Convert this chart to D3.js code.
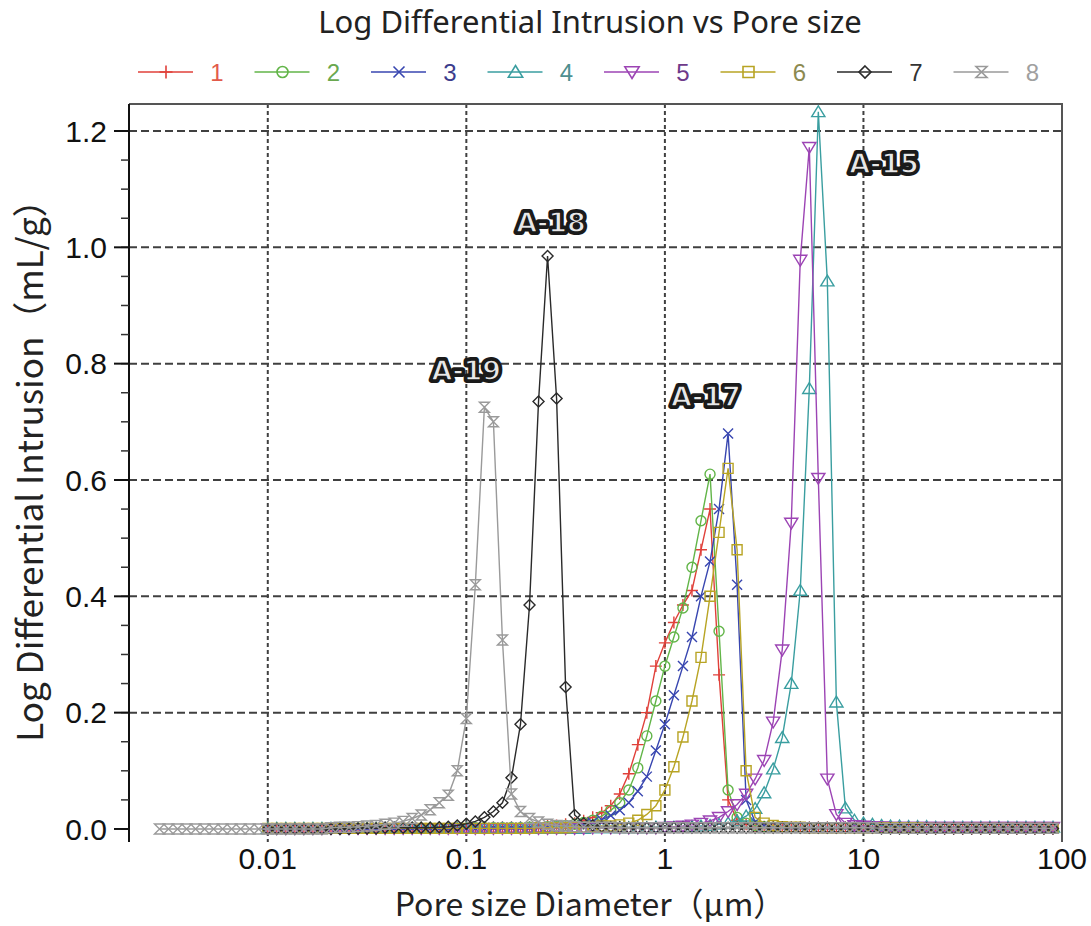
<!DOCTYPE html>
<html>
<head>
<meta charset="utf-8">
<script src="https://cdn.jsdelivr.net/npm/d3@7"></script>
<style>
  body { margin: 0; background: #fff; }
</style>
</head>
<body>
<div id="chart"></div>
<script>
// Pore size grid (um), 22 points per decade
const poreSize = [
  0.002848, 0.003162, 0.003511, 0.003899, 0.004329, 0.004806, 0.005337, 0.005925, 0.006579, 0.007305,
  0.008111, 0.009006, 0.01, 0.0111, 0.01233, 0.01369, 0.0152, 0.01688, 0.01874, 0.02081,
  0.0231, 0.02565, 0.02848, 0.03162, 0.03511, 0.03899, 0.04329, 0.04806, 0.05337, 0.05925,
  0.06579, 0.07305, 0.08111, 0.09006, 0.1, 0.111, 0.1233, 0.1369, 0.152, 0.1688,
  0.1874, 0.2081, 0.231, 0.2565, 0.2848, 0.3162, 0.3511, 0.3899, 0.4329, 0.4806,
  0.5337, 0.5925, 0.6579, 0.7305, 0.8111, 0.9006, 1, 1.11, 1.233, 1.369,
  1.52, 1.688, 1.874, 2.081, 2.31, 2.565, 2.848, 3.162, 3.511, 3.899,
  4.329, 4.806, 5.337, 5.925, 6.579, 7.305, 8.111, 9.006, 10, 11.1,
  12.33, 13.69, 15.2, 16.88, 18.74, 20.81, 23.1, 25.65, 28.48, 31.62,
  35.11, 38.99, 43.29, 48.06, 53.37, 59.25, 65.79, 73.05, 81.11, 90.06
];

// Log differential intrusion (mL/g) for each sample
const series1 = [
  null, null, null, null, null, null, null, null, null, null,
  null, null, 0.001, 0.001, 0.001, 0.001, 0.001, 0.001, 0.001, 0.001,
  0.001, 0.001, 0.001, 0.001, 0.002, 0.002, 0.002, 0.002, 0.002, 0.002,
  0.002, 0.002, 0.002, 0.002, 0.002, 0.002, 0.003, 0.003, 0.003, 0.003,
  0.003, 0.003, 0.004, 0.005, 0.006, 0.008, 0.01, 0.014, 0.02, 0.028,
  0.04, 0.06, 0.095, 0.145, 0.2, 0.28, 0.32, 0.355, 0.385, 0.41,
  0.48, 0.55, 0.265, 0.05, 0.015, 0.008, 0.005, 0.004, 0.003, 0.003,
  0.002, 0.002, 0.002, 0.002, 0.002, 0.002, 0.002, 0.002, 0.002, 0.002,
  0.002, 0.002, 0.002, 0.002, 0.002, 0.001, 0.001, 0.001, 0.001, 0.001,
  0.001, 0.001, 0.001, 0.001, 0.001, 0.001, 0.001, 0.001, 0.001, 0.001
];
const series2 = [
  null, null, null, null, null, null, null, null, null, null,
  null, null, 0.001, 0.001, 0.001, 0.001, 0.001, 0.001, 0.001, 0.001,
  0.001, 0.001, 0.001, 0.001, 0.001, 0.001, 0.001, 0.001, 0.001, 0.001,
  0.001, 0.001, 0.001, 0.001, 0.001, 0.002, 0.002, 0.002, 0.002, 0.002,
  0.002, 0.003, 0.003, 0.004, 0.005, 0.006, 0.008, 0.011, 0.015, 0.022,
  0.032, 0.045, 0.067, 0.105, 0.16, 0.22, 0.28, 0.33, 0.38, 0.45,
  0.53, 0.61, 0.34, 0.067, 0.02, 0.01, 0.006, 0.004, 0.003, 0.003,
  0.002, 0.002, 0.002, 0.002, 0.002, 0.002, 0.002, 0.002, 0.002, 0.002,
  0.002, 0.002, 0.002, 0.002, 0.002, 0.001, 0.001, 0.001, 0.001, 0.001,
  0.001, 0.001, 0.001, 0.001, 0.001, 0.001, 0.001, 0.001, 0.001, 0.001
];
const series3 = [
  null, null, null, null, null, null, null, null, null, null,
  null, null, 0.001, 0.001, 0.001, 0.001, 0.001, 0.001, 0.001, 0.001,
  0.001, 0.001, 0.001, 0.001, 0.001, 0.001, 0.001, 0.001, 0.001, 0.001,
  0.001, 0.001, 0.001, 0.001, 0.001, 0.001, 0.001, 0.002, 0.002, 0.002,
  0.002, 0.002, 0.003, 0.003, 0.004, 0.005, 0.006, 0.008, 0.011, 0.016,
  0.023, 0.032, 0.045, 0.065, 0.09, 0.135, 0.18, 0.23, 0.28, 0.33,
  0.4, 0.46, 0.55, 0.68, 0.42, 0.05, 0.012, 0.006, 0.004, 0.003,
  0.002, 0.002, 0.002, 0.002, 0.002, 0.002, 0.002, 0.002, 0.002, 0.002,
  0.002, 0.002, 0.002, 0.002, 0.002, 0.001, 0.001, 0.001, 0.001, 0.001,
  0.001, 0.001, 0.001, 0.001, 0.001, 0.001, 0.001, 0.001, 0.001, 0.001
];
const series4 = [
  null, null, null, null, null, null, null, null, null, null,
  null, null, 0.001, 0.001, 0.001, 0.001, 0.001, 0.001, 0.001, 0.001,
  0.001, 0.001, 0.001, 0.001, 0.001, 0.001, 0.001, 0.001, 0.001, 0.001,
  0.001, 0.001, 0.001, 0.001, 0.001, 0.001, 0.001, 0.001, 0.001, 0.001,
  0.001, 0.001, 0.001, 0.001, 0.001, 0.001, 0.001, 0.001, 0.002, 0.002,
  0.002, 0.002, 0.002, 0.002, 0.002, 0.003, 0.003, 0.003, 0.003, 0.004,
  0.005, 0.006, 0.008, 0.01, 0.014, 0.022, 0.035, 0.062, 0.103, 0.157,
  0.25, 0.41, 0.757, 1.233, 0.942, 0.218, 0.036, 0.015, 0.01, 0.008,
  0.006, 0.005, 0.005, 0.004, 0.004, 0.004, 0.003, 0.003, 0.003, 0.003,
  0.003, 0.003, 0.003, 0.003, 0.003, 0.003, 0.003, 0.003, 0.003, 0.003
];
const series5 = [
  null, null, null, null, null, null, null, null, null, null,
  null, null, 0.001, 0.001, 0.001, 0.001, 0.001, 0.001, 0.001, 0.001,
  0.001, 0.001, 0.001, 0.001, 0.001, 0.001, 0.001, 0.001, 0.001, 0.001,
  0.001, 0.001, 0.001, 0.001, 0.001, 0.001, 0.001, 0.001, 0.001, 0.001,
  0.001, 0.001, 0.001, 0.001, 0.001, 0.001, 0.001, 0.001, 0.002, 0.002,
  0.002, 0.002, 0.002, 0.002, 0.002, 0.002, 0.003, 0.004, 0.005, 0.007,
  0.01, 0.014, 0.02, 0.03, 0.042, 0.06, 0.086, 0.118, 0.184, 0.308,
  0.526, 0.978, 1.172, 0.603, 0.086, 0.025, 0.01, 0.006, 0.005, 0.004,
  0.004, 0.003, 0.003, 0.003, 0.003, 0.003, 0.003, 0.003, 0.003, 0.003,
  0.003, 0.003, 0.003, 0.003, 0.003, 0.003, 0.003, 0.003, 0.003, 0.003
];
const series6 = [
  null, null, null, null, null, null, null, null, null, null,
  null, null, 0.001, 0.001, 0.001, 0.001, 0.001, 0.001, 0.001, 0.001,
  0.001, 0.001, 0.001, 0.001, 0.001, 0.001, 0.001, 0.001, 0.001, 0.001,
  0.001, 0.001, 0.001, 0.001, 0.001, 0.001, 0.001, 0.001, 0.001, 0.001,
  0.001, 0.001, 0.002, 0.002, 0.002, 0.002, 0.003, 0.003, 0.004, 0.005,
  0.005, 0.007, 0.01, 0.015, 0.025, 0.04, 0.067, 0.107, 0.158, 0.22,
  0.295, 0.4, 0.51, 0.62, 0.48, 0.1, 0.02, 0.01, 0.006, 0.004,
  0.003, 0.003, 0.002, 0.002, 0.002, 0.002, 0.002, 0.002, 0.002, 0.002,
  0.002, 0.002, 0.002, 0.002, 0.002, 0.001, 0.001, 0.001, 0.001, 0.001,
  0.001, 0.001, 0.001, 0.001, 0.001, 0.001, 0.001, 0.001, 0.001, 0.001
];
const series7 = [
  null, null, null, null, null, null, null, null, null, null,
  null, null, 0, 0, 0, 0, 0, 0, 0, 0,
  0, 0, 0.001, 0.001, 0.001, 0.002, 0.002, 0.002, 0.002, 0.002,
  0.002, 0.003, 0.004, 0.006, 0.009, 0.013, 0.02, 0.03, 0.045, 0.088,
  0.18, 0.385, 0.735, 0.985, 0.74, 0.244, 0.024, 0.01, 0.006, 0.004,
  0.003, 0.003, 0.002, 0.002, 0.002, 0.002, 0.002, 0.002, 0.002, 0.002,
  0.002, 0.002, 0.002, 0.002, 0.002, 0.002, 0.002, 0.002, 0.002, 0.002,
  0.002, 0.002, 0.002, 0.002, 0.002, 0.002, 0.002, 0.002, 0.002, 0.002,
  0.001, 0.001, 0.001, 0.001, 0.001, 0.001, 0.001, 0.001, 0.001, 0.001,
  0.001, 0.001, 0.001, 0.001, 0.001, 0.001, 0.001, 0.001, 0.001, 0.001
];
const series8 = [
  0, 0, 0, 0, 0, 0, 0, 0, 0, 0,
  0, 0, 0, 0, 0, 0, 0, 0, 0, 0.002,
  0.003, 0.003, 0.004, 0.005, 0.006, 0.008, 0.01, 0.013, 0.018, 0.024,
  0.033, 0.045, 0.058, 0.1, 0.19, 0.42, 0.725, 0.7, 0.325, 0.06,
  0.03, 0.018, 0.012, 0.008, 0.006, 0.005, 0.004, 0.003, 0.003, 0.003,
  0.003, 0.002, 0.002, 0.002, 0.002, 0.002, 0.002, 0.002, 0.002, 0.002,
  0.002, 0.002, 0.002, 0.002, 0.002, 0.002, 0.002, 0.002, 0.002, 0.002,
  0.002, 0.002, 0.002, 0.002, 0.002, 0.002, 0.002, 0.002, 0.002, 0.002,
  0.001, 0.001, 0.001, 0.001, 0.001, 0.001, 0.001, 0.001, 0.001, 0.001,
  0.001, 0.001, 0.001, 0.001, 0.001, 0.001, 0.001, 0.001, 0.001, 0.001
];

const seriesNames = ["1", "2", "3", "4", "5", "6", "7", "8"];
const seriesColors = ["#e0403a", "#62b548", "#3846b0", "#3a9ea0", "#9c44b4", "#b8a424", "#2a2a2a", "#9a9a9a"];
const labelColors = ["#e25a4a", "#6aa84f", "#3c3c8c", "#4f8f8f", "#6e3a8a", "#8c8a50", "#333333", "#a0a0a0"];
const seriesShapes = ["plus", "circle", "cross", "triUp", "triDown", "square", "diamond", "hourglass"];
const seriesValues = [series1, series2, series3, series4, series5, series6, series7, series8];

const xTicks = [0.01, 0.1, 1, 10, 100];
const xTickLabels = ["0.01", "0.1", "1", "10", "100"];
const yTicks = [0, 0.2, 0.4, 0.6, 0.8, 1.0, 1.2];

// sample labels placed in data coordinates
const annotations = [
  { text: "A-15", d: 12.7, v: 1.145 },
  { text: "A-18", d: 0.267, v: 1.043 },
  { text: "A-19", d: 0.1, v: 0.789 },
  { text: "A-17", d: 1.61, v: 0.744 }
];

const width = 1091, height = 926;
const margin = { top: 104, right: 29, bottom: 84, left: 129 };

const svg = d3.select("#chart")
  .append("svg")
  .attr("width", width)
  .attr("height", height);

const x = d3.scaleLog()
  .domain([0.002, 100])
  .range([margin.left, width - margin.right]);

const y = d3.scaleLinear()
  .domain([-0.0224, 1.2464])
  .range([height - margin.bottom, margin.top]);

const plotTop = margin.top, plotBottom = height - margin.bottom;
const plotLeft = margin.left, plotRight = width - margin.right;

// Grid lines
svg.append("g")
  .selectAll("line")
  .data(yTicks.slice(1))
  .enter().append("line")
  .attr("x1", plotLeft)
  .attr("x2", plotRight)
  .attr("y1", d => y(d))
  .attr("y2", d => y(d))
  .attr("stroke", "#404040")
  .attr("stroke-width", 2)
  .attr("stroke-dasharray", "8,4");

svg.append("g")
  .selectAll("line")
  .data(xTicks.slice(0, 4))
  .enter().append("line")
  .attr("x1", d => x(d))
  .attr("x2", d => x(d))
  .attr("y1", plotTop)
  .attr("y2", plotBottom)
  .attr("stroke", "#404040")
  .attr("stroke-width", 2)
  .attr("stroke-dasharray", "4,3");

// Frame (top and right)
svg.append("path")
  .attr("d", `M${plotLeft},${plotTop}H${plotRight}V${plotBottom}`)
  .attr("fill", "none")
  .attr("stroke", "#555")
  .attr("stroke-width", 2);

// Marker shapes
function markerPath(shape, r) {
  switch (shape) {
    case "plus": return `M${-r},0H${r}M0,${-r}V${r}`;
    case "circle": return `M${-r},0A${r},${r} 0 1,0 ${r},0A${r},${r} 0 1,0 ${-r},0`;
    case "cross": return `M${-r},${-r}L${r},${r}M${-r},${r}L${r},${-r}`;
    case "triUp": return `M0,${-r}L${r * 1.1},${r * 0.8}L${-r * 1.1},${r * 0.8}Z`;
    case "triDown": return `M0,${r}L${r * 1.1},${-r * 0.8}L${-r * 1.1},${-r * 0.8}Z`;
    case "square": return `M${-r},${-r}H${r}V${r}H${-r}Z`;
    case "diamond": return `M0,${-r}L${r},0L0,${r}L${-r},0Z`;
    case "hourglass": return `M${-r},${-r}H${r}L${-r},${r}H${r}Z`;
  }
}
const markerSize = [6, 5, 5, 6, 6, 5, 5.5, 5];

svg.append("defs").append("clipPath")
  .attr("id", "plot-clip")
  .append("rect")
  .attr("x", plotLeft)
  .attr("y", plotTop)
  .attr("width", plotRight - plotLeft)
  .attr("height", plotBottom - plotTop);

const line = d3.line()
  .x(p => x(p.d))
  .y(p => y(p.v));

const plot = svg.append("g").attr("clip-path", "url(#plot-clip)");

seriesValues.forEach((vals, i) => {
  const pts = poreSize.map((d, j) => ({ d: d, v: vals[j] })).filter(p => p.v !== null);
  const g = plot.append("g");
  g.append("path")
    .datum(pts)
    .attr("d", line)
    .attr("fill", "none")
    .attr("stroke", seriesColors[i])
    .attr("stroke-width", 1.4);
  g.selectAll(".pt")
    .data(pts)
    .enter().append("path")
    .attr("transform", p => `translate(${x(p.d)},${y(p.v)})`)
    .attr("d", markerPath(seriesShapes[i], markerSize[i]))
    .attr("fill", "none")
    .attr("stroke", seriesColors[i])
    .attr("stroke-width", 1.4);
});

// Y axis
const yAxis = svg.append("g");
yAxis.append("line")
  .attr("x1", plotLeft).attr("x2", plotLeft)
  .attr("y1", plotTop).attr("y2", plotBottom)
  .attr("stroke", "#111").attr("stroke-width", 2);

const minorTicks = d3.range(0, 1.2001, 0.05);
yAxis.selectAll(".minor")
  .data(minorTicks)
  .enter().append("line")
  .attr("x1", plotLeft - 8).attr("x2", plotLeft)
  .attr("y1", d => y(d)).attr("y2", d => y(d))
  .attr("stroke", "#333").attr("stroke-width", 1.5);

yAxis.selectAll(".major")
  .data(yTicks)
  .enter().append("line")
  .attr("x1", plotLeft - 15).attr("x2", plotLeft)
  .attr("y1", d => y(d)).attr("y2", d => y(d))
  .attr("stroke", "#111").attr("stroke-width", 2);

yAxis.selectAll(".ylab")
  .data(yTicks)
  .enter().append("text")
  .attr("x", 107)
  .attr("y", d => y(d))
  .attr("dy", "0.36em")
  .attr("text-anchor", "end")
  .style("font-family", "Liberation Sans, Arial, sans-serif")
  .style("font-size", "30px")
  .attr("fill", "#111")
  .text(d => d3.format(".1f")(d));

// X axis labels
svg.append("g")
  .selectAll("text")
  .data(xTicks)
  .enter().append("text")
  .attr("x", d => x(d))
  .attr("y", 869)
  .attr("text-anchor", "middle")
  .style("font-family", "Liberation Sans, Arial, sans-serif")
  .style("font-size", "30px")
  .attr("fill", "#111")
  .text((d, i) => xTickLabels[i]);

// Title
svg.append("text")
  .attr("x", 590)
  .attr("y", 33)
  .attr("text-anchor", "middle")
  .style("font-family", "Noto Sans, sans-serif")
  .style("font-size", "31px")
  .attr("fill", "#222")
  .text("Log Differential Intrusion vs Pore size");

// Axis titles
svg.append("text")
  .attr("x", 590)
  .attr("y", 916)
  .attr("text-anchor", "middle")
  .style("font-family", "Noto Sans CJK JP, Noto Sans, sans-serif")
  .style("font-size", "32px")
  .attr("fill", "#222")
  .text("Pore size Diameter（μm）");

svg.append("text")
  .attr("transform", "rotate(-90)")
  .attr("x", -462)
  .attr("y", 43)
  .attr("text-anchor", "middle")
  .style("font-family", "Noto Sans CJK JP, Noto Sans, sans-serif")
  .style("font-size", "35px")
  .attr("fill", "#222")
  .text("Log Differential Intrusion（mL/g）");

// Legend
const legend = svg.append("g");
seriesNames.forEach((name, i) => {
  const x0 = 138 + i * 116.5, ly = 72;
  legend.append("line")
    .attr("x1", x0).attr("x2", x0 + 55)
    .attr("y1", ly).attr("y2", ly)
    .attr("stroke", seriesColors[i]).attr("stroke-width", 1.6);
  legend.append("path")
    .attr("transform", `translate(${x0 + 28},${ly})`)
    .attr("d", markerPath(seriesShapes[i], markerSize[i] + 0.5))
    .attr("fill", "none")
    .attr("stroke", seriesColors[i]).attr("stroke-width", 1.6);
  legend.append("text")
    .attr("x", x0 + 79)
    .attr("y", ly)
    .attr("dy", "0.36em")
    .attr("text-anchor", "middle")
    .style("font-family", "Liberation Sans, Arial, sans-serif")
    .style("font-size", "24px")
    .attr("fill", labelColors[i])
    .text(name);
});

// Sample annotations (outlined bold text)
const ann = svg.append("g")
  .style("font-family", "DejaVu Sans, sans-serif")
  .style("font-weight", "bold")
  .style("font-size", "27px")
  .attr("text-anchor", "middle");

ann.selectAll(".outer")
  .data(annotations)
  .enter().append("text")
  .attr("x", d => x(d.d))
  .attr("y", d => y(d.v))
  .attr("dy", "0.36em")
  .attr("fill", "#1a1a1a")
  .attr("stroke", "#1a1a1a")
  .attr("stroke-width", 6)
  .attr("stroke-linejoin", "round")
  .text(d => d.text);

ann.selectAll(".inner")
  .data(annotations)
  .enter().append("text")
  .attr("x", d => x(d.d))
  .attr("y", d => y(d.v))
  .attr("dy", "0.36em")
  .attr("fill", "#e8e8e8")
  .attr("stroke", "#1a1a1a")
  .attr("stroke-width", 1.5)
  .text(d => d.text);
</script>
</body>
</html>
